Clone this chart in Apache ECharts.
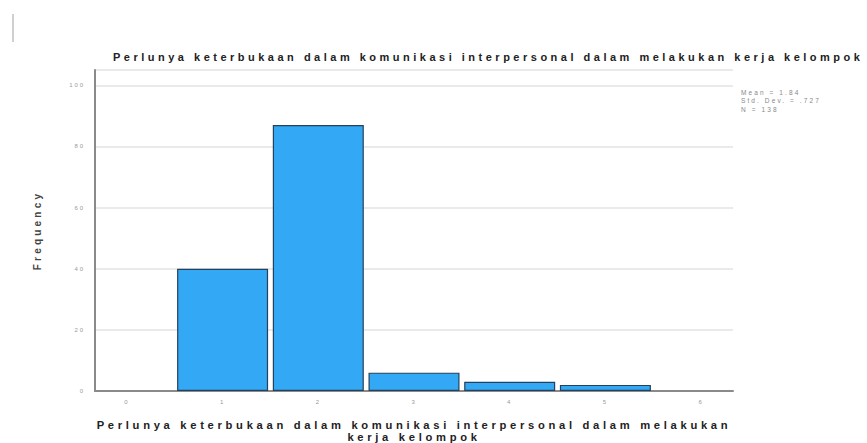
<!DOCTYPE html>
<html><head><meta charset="utf-8">
<script src="https://cdn.jsdelivr.net/npm/echarts@6/dist/echarts.min.js"></script>
<style>
html,body{margin:0;padding:0;background:#fff;}
#c{width:867px;height:443px;}
#c svg text{letter-spacing:0.32em;}
#c svg text[style*="font-size: 11px"]{letter-spacing:3.5px;}
#c svg text[style*="font-size: 11.2px"]{letter-spacing:3.7px;}
#c svg text[style*="font-size: 6.5px"]{letter-spacing:2.1px;}
</style></head><body><div id="c"></div>
<script>
const categories = [0, 1, 2, 3, 4, 5, 6];
const frequencies = [0, 40, 87, 6, 3, 2, 0];
const yTicks = [0, 20, 40, 60, 80, 100];
const statsLines = ['Mean = 1.84', 'Std. Dev. = .727', 'N = 138'];
const titleText = 'Perlunya keterbukaan dalam komunikasi interpersonal dalam melakukan kerja kelompok';
const xName = 'Perlunya keterbukaan dalam komunikasi interpersonal dalam melakukan\nkerja kelompok';
const yName = 'Frequency';

const barData = categories.map((c, i) => [c, frequencies[i]]).filter(d => d[1] > 0);

const chart = echarts.init(document.getElementById('c'), null, {renderer: 'svg'});
chart.setOption({
  animation: false,
  backgroundColor: '#ffffff',
  title: {
    text: titleText, left: 113, top: 51, padding: 0,
    textStyle: {fontFamily: 'Liberation Sans', fontSize: 11, fontWeight: 'bold', color: '#222'}
  },
  grid: {left: 95, right: 134, top: 70, bottom: 52, outerBoundsMode: 'none', containLabel: false},
  xAxis: {
    type: 'value', min: -1/3, max: 6 + 1/3,
    splitLine: {show: false},
    axisLine: {show: true, lineStyle: {color: '#8a8a8a', width: 2}},
    axisTick: {show: false},
    axisLabel: {customValues: categories, color: '#999', fontSize: 6, margin: 8, fontFamily: 'Liberation Sans'},
    name: xName, nameLocation: 'middle', nameGap: 28,
    nameTextStyle: {fontFamily: 'Liberation Sans', fontSize: 11.2, fontWeight: 'bold', color: '#222', lineHeight: 12}
  },
  yAxis: {
    type: 'value', min: 0, max: 105,
    axisLine: {show: true, onZero: false, lineStyle: {color: '#8a8a8a', width: 2}},
    axisTick: {show: false},
    axisLabel: {customValues: yTicks, color: '#999', fontSize: 6, margin: 10, fontFamily: 'Liberation Sans'},
    splitLine: {show: true, lineStyle: {color: '#e3e3e3', width: 1.5}},
    name: yName, nameLocation: 'middle', nameGap: 53,
    nameTextStyle: {fontFamily: 'Liberation Sans', fontSize: 10, fontWeight: 'bold', color: '#444'}
  },
  graphic: [{
    type: 'text', left: 741, top: 88,
    style: {text: statsLines.join('\n'), fontSize: 6.5, lineHeight: 8.5, fill: '#888', fontFamily: 'Liberation Sans'}
  }, {
    type: 'line', shape: {x1: 13, y1: 14, x2: 13, y2: 42},
    style: {stroke: '#d0d0d0', lineWidth: 2}
  }],
  series: [{
    type: 'bar', data: barData, barWidth: 91,
    itemStyle: {color: '#33a8f4', borderColor: '#24425e', borderWidth: 1.2}
  }]
});
</script>
</body></html>
